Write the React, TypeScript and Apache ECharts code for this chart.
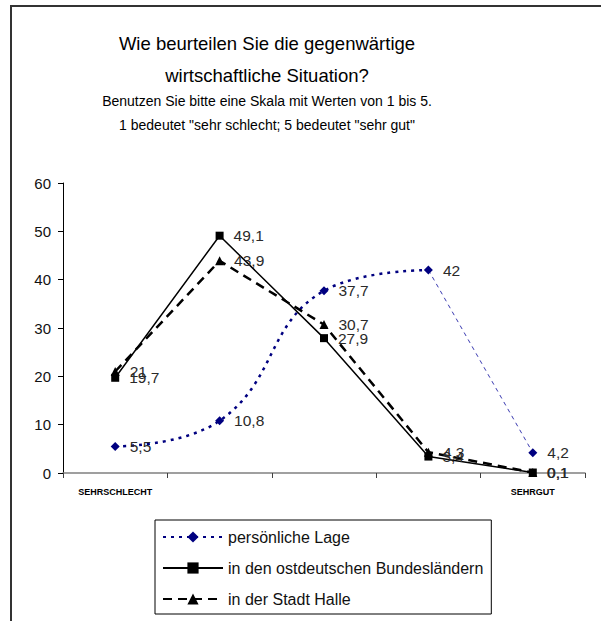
import React, { useEffect, useRef } from "react";
import * as echarts from "echarts";

const categories = ["SEHRSCHLECHT", "", "", "", "SEHRGUT"];
const persoenlich = [5.5, 10.8, 37.7, 42, 4.2];
const ostdeutsch = [19.7, 49.1, 27.9, 3.4, 0.1];
const halle = [21, 43.9, 30.7, 4.3, 0.1];
const seriesNames = [
  "persönliche Lage",
  "in den ostdeutschen Bundesländern",
  "in der Stadt Halle",
];
const titleLines = ["Wie beurteilen Sie die gegenwärtige", "wirtschaftliche Situation?"];
const subtitleLines = [
  "Benutzen Sie bitte eine Skala mit Werten von 1 bis 5.",
  '1 bedeutet "sehr schlecht; 5 bedeutet "sehr gut"',
];

const FONT = "Liberation Sans, Arial, sans-serif";
const fmt = (p: any) => String(p.value).replace(".", ",");
const labelStyle = {
  show: true,
  position: "right" as const,
  distance: 10,
  fontSize: 15.5,
  color: "#2a2a2a",
  fontFamily: FONT,
  formatter: fmt,
};

export default function App() {
  const ref = useRef<HTMLDivElement>(null);
  useEffect(() => {
    if (!ref.current) return;
    const chart = echarts.init(ref.current, undefined, { renderer: "svg" });
    const last = persoenlich.length - 1;
    const mainPart = persoenlich.map((v, i) => (i === last ? null : v));
    const tailPart = persoenlich.map((v, i) =>
      i < last - 1
        ? null
        : i === last - 1
        ? { value: v, symbol: "none", label: { show: false } }
        : v
    );
    chart.setOption({
      animation: false,
      backgroundColor: "#fff",
      textStyle: { fontFamily: FONT },
      graphic: [
        {
          type: "rect",
          shape: { x: 11, y: 6, width: 800, height: 800 },
          style: { fill: "none", stroke: "#333", lineWidth: 2 },
          silent: true,
        },
        ...titleLines.map((t, i) => ({
          type: "text",
          x: 267,
          y: 43 + i * 32,
          style: {
            text: t,
            fontSize: 18.5,
            fill: "#000",
            textAlign: "center",
            textVerticalAlign: "middle",
            fontFamily: FONT,
          },
        })),
        ...subtitleLines.map((t, i) => ({
          type: "text",
          x: 267,
          y: 101 + i * 24,
          style: {
            text: t,
            fontSize: 14,
            fill: "#000",
            textAlign: "center",
            textVerticalAlign: "middle",
            fontFamily: FONT,
          },
        })),
      ],
      grid: { left: 63, right: 16, top: 183, bottom: 148, containLabel: false },
      legend: {
        data: seriesNames,
        orient: "vertical",
        left: 155,
        top: 520,
        itemWidth: 60,
        itemHeight: 14,
        itemGap: 15,
        padding: [9, 8, 7, 7],
        borderColor: "#000",
        borderWidth: 1,
        textStyle: { fontSize: 16, color: "#111" },
      },
      xAxis: {
        type: "category",
        data: categories,
        boundaryGap: true,
        axisLine: { lineStyle: { color: "#808080", width: 1.5 } },
        axisTick: { show: true, length: 5, lineStyle: { color: "#404040" } },
        axisLabel: {
          fontSize: 9,
          color: "#000",
          margin: 14,
          interval: 0,
          fontWeight: "bold",
        },
      },
      yAxis: {
        type: "value",
        min: 0,
        max: 60,
        interval: 10,
        splitLine: { show: false },
        axisLine: { show: true, lineStyle: { color: "#000", width: 1 } },
        axisTick: { show: true, length: 5, lineStyle: { color: "#000" } },
        axisLabel: { fontSize: 15, color: "#111", margin: 12 },
      },
      series: [
        {
          name: seriesNames[0],
          type: "line",
          data: mainPart,
          smooth: 0.45,
          symbol: "diamond",
          symbolSize: 9,
          color: "#000080",
          lineStyle: { color: "#000080", width: 2.5, type: [3, 5] },
          itemStyle: { color: "#000080" },
          label: labelStyle,
          z: 3,
        },
        {
          name: "tail",
          type: "line",
          data: tailPart,
          symbol: "diamond",
          symbolSize: 9,
          lineStyle: { color: "#3a3ab0", width: 1, type: [4, 4] },
          itemStyle: { color: "#000080" },
          label: labelStyle,
          z: 3,
        },
        {
          name: seriesNames[1],
          type: "line",
          data: ostdeutsch,
          symbol: "rect",
          symbolSize: 8,
          color: "#000",
          lineStyle: { color: "#000", width: 1.5, type: "solid" },
          itemStyle: { color: "#000" },
          label: labelStyle,
          z: 4,
        },
        {
          name: seriesNames[2],
          type: "line",
          data: halle,
          symbol: "triangle",
          symbolSize: 9,
          color: "#000",
          lineStyle: { color: "#000", width: 2.5, type: [9, 6] },
          itemStyle: { color: "#000" },
          label: labelStyle,
          z: 4,
        },
      ],
    });
    return () => chart.dispose();
  }, []);
  return (
    <div
      ref={ref}
      style={{ position: "fixed", left: 0, top: 0, width: 601, height: 621 }}
    />
  );
}
